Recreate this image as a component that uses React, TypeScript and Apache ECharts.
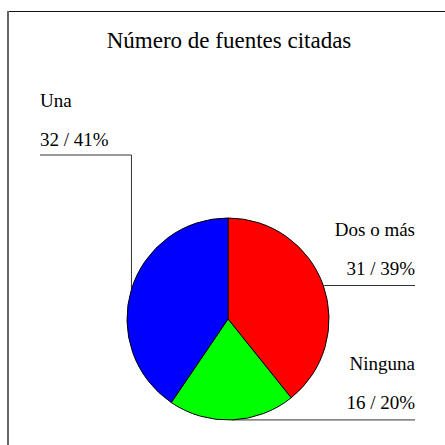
import React, { useEffect, useRef } from "react";
import * as echarts from "echarts";

const titleText = "Número de fuentes citadas";
const categories = ["Dos o más", "Ninguna", "Una"];
const values = [31, 16, 32];
const colors = ["#ff0000", "#00ff00", "#0000ff"];

const FONT = "'Liberation Serif', 'Times New Roman', serif";

export default function App() {
  const ref = useRef<HTMLDivElement>(null);
  useEffect(() => {
    if (!ref.current) return;
    const chart = echarts.init(ref.current, undefined, { renderer: "svg" });
    const cx = 228;
    const cy = 319;
    const r = 101;
    const total = values.reduce((a, b) => a + b, 0);
    const edgePoint = (i: number) => {
      let acc = 0;
      for (let k = 0; k < i; k++) acc += values[k];
      const mid = 90 - ((acc + values[i] / 2) / total) * 360;
      const rad = (mid * Math.PI) / 180;
      return [cx + r * Math.cos(rad), cy - r * Math.sin(rad)];
    };
    chart.setOption({
      animation: false,
      backgroundColor: "#ffffff",
      graphic: [
        {
          type: "line",
          shape: { x1: 8, y1: 11.5, x2: 445, y2: 11.5 },
          style: { stroke: "#111", lineWidth: 1.2 },
        },
        {
          type: "line",
          shape: { x1: 8, y1: 11, x2: 8, y2: 445 },
          style: { stroke: "#666", lineWidth: 2 },
        },
        {
          type: "text",
          x: 229,
          y: 40,
          style: {
            text: titleText,
            font: `23px ${FONT}`,
            fill: "#000",
            textAlign: "center",
            textVerticalAlign: "middle",
          },
        },
      ],
      series: [
        {
          type: "pie",
          center: [cx, cy],
          radius: r,
          startAngle: 90,
          clockwise: true,
          avoidLabelOverlap: false,
          percentPrecision: 0,
          itemStyle: { borderColor: "#000", borderWidth: 1 },
          emphasis: { disabled: true },
          data: categories.map((name, i) => ({
            name,
            value: values[i],
            itemStyle: { color: colors[i] },
          })),
          label: {
            show: true,
            position: "outside",
            formatter: "{n|{b}}\n{v|{c} / {d}%}",
            color: "#000",
            fontFamily: FONT,
            fontSize: 19,
            rich: {
              n: { fontFamily: FONT, fontSize: 19, lineHeight: 39, color: "#000" },
              v: { fontFamily: FONT, fontSize: 19, lineHeight: 39, color: "#000" },
            },
          },
          labelLine: {
            show: true,
            lineStyle: { color: "#333", width: 1 },
          },
          labelLayout: (params: any) => {
            const i = params.dataIndex;
            const p0 = edgePoint(i);
            if (i === 0) {
              return {
                x: 415,
                y: 210,
                align: "right",
                verticalAlign: "top",
                labelLinePoints: [p0, [p0[0] + 1, p0[1]], [415, p0[1]]],
              };
            }
            if (i === 1) {
              return {
                x: 415,
                y: 344,
                align: "right",
                verticalAlign: "top",
                labelLinePoints: [p0, [p0[0] + 1, p0[1]], [415, p0[1]]],
              };
            }
            return {
              x: 40,
              y: 81,
              align: "left",
              verticalAlign: "top",
              labelLinePoints: [p0, [p0[0], 155], [40, 155]],
            };
          },
        },
      ],
    });
    return () => chart.dispose();
  }, []);
  return (
    <div
      ref={ref}
      style={{ position: "fixed", left: 0, top: 0, width: 445, height: 445 }}
    />
  );
}
